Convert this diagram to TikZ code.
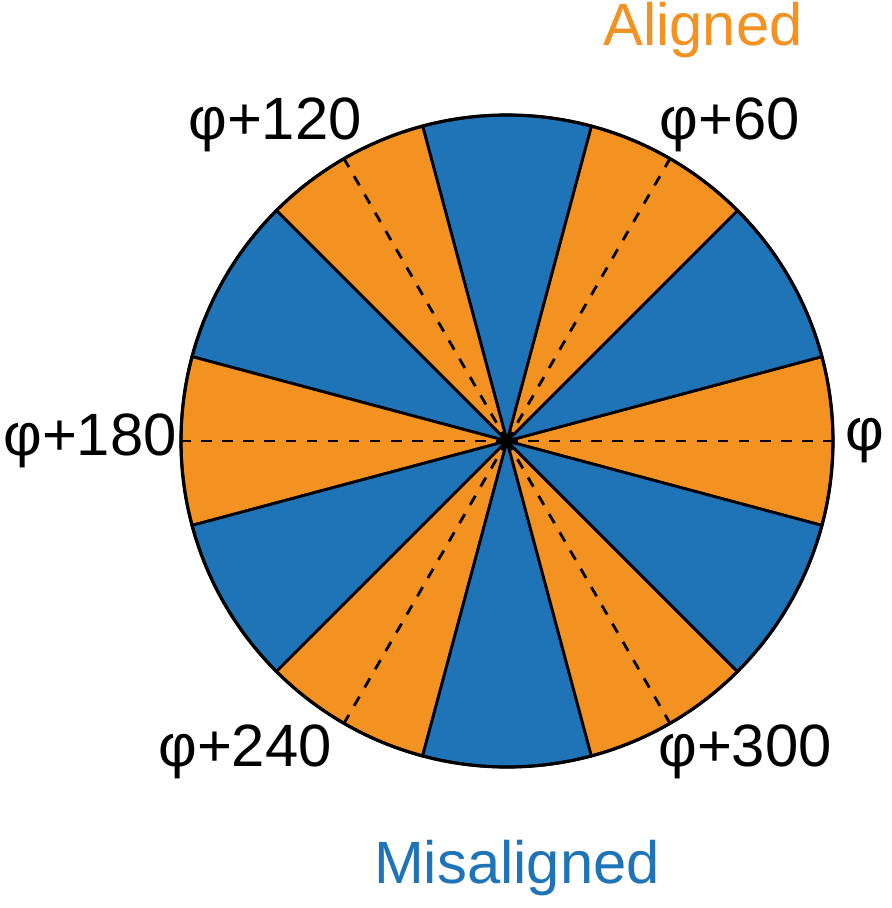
\documentclass[tikz,border=0pt]{standalone}
\usepackage{fontspec}
\setmainfont{Liberation Sans}
\definecolor{alignorange}{HTML}{F39121}
\definecolor{misblue}{HTML}{1F74B8}
\tikzset{lbl/.style={font=\fontsize{17}{20}\selectfont}}
\begin{document}
\begin{tikzpicture}
		\useasboundingbox (-5.07,-4.67) rectangle (3.85,4.41);
		\coordinate (o) at (0,0);
		% sectors
		\foreach \a in {0,60,...,300} {
			\fill[alignorange, draw=black, line width=0.8pt] (o) -- ({\a-15}:3.26) arc ({\a-15}:{\a+15}:3.26) -- cycle;
			\fill[misblue, draw=black, line width=0.8pt] (o) -- ({\a+15}:3.26) arc ({\a+15}:{\a+45}:3.26) -- cycle;
		}
		\draw[line width=0.9pt] (o) circle (3.26);
		\foreach \a in {0,60,...,300}
			\draw[dashed, line width=0.8pt] (o) -- (\a:3.26);
		\fill (o) circle (0.04);
		
		\node(p0) [lbl] at (3.58,0) {φ};
		\node(p60) [lbl] at (2.23,3.16) {φ+60};
		\node(p120) [lbl] at (-2.32,3.16) {φ+120};
		\node(p180) [lbl] at (-4.17,0) {φ+180};
		\node(p240) [lbl] at (-2.62,-3.11) {φ+240};
		\node(p300) [lbl] at (2.38,-3.11) {φ+300};
		\node(al) [lbl, text=alignorange] at (1.96,4.11) {Aligned};
		\node(mis) [lbl, text=misblue] at (0.10,-4.27) {Misaligned};
\end{tikzpicture}
\end{document}
